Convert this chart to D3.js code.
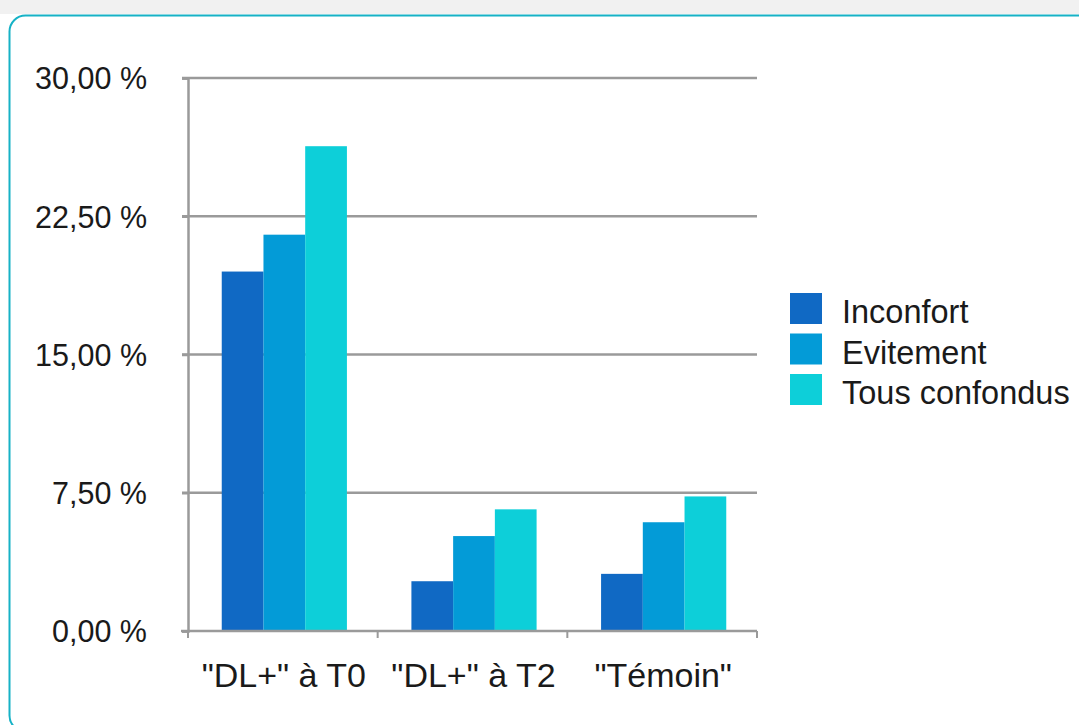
<!DOCTYPE html>
<html>
<head>
<meta charset="utf-8">
<script src="https://cdn.jsdelivr.net/npm/d3@7"></script>
<style>
  body { margin: 0; background: #fff; }
  .chart text { font-family: "Liberation Sans", Arial, sans-serif; fill: #1a1a1a; }
</style>
</head>
<body>
<div class="chart"></div>
<script>
// chart size
var width = 1079;
var height = 725;

// data
var categories = ['"DL+" à T0', '"DL+" à T2', '"Témoin"'];
var seriesNames = ["Inconfort", "Evitement", "Tous confondus"];
var inconfort = [19.5, 2.7, 3.1];
var evitement = [21.5, 5.15, 5.9];
var tousConfondus = [26.3, 6.6, 7.3];
var tickValues = [0, 7.5, 15, 22.5, 30];
var colors = ["#1069c4", "#039bd7", "#0dcfd9"];

var series = [inconfort, evitement, tousConfondus];

const svg = d3.select(".chart")
              .append("svg")
              .attr("width", width)
              .attr("height", height);

// frame
svg.append("rect")
   .attr("x", 0).attr("y", 0)
   .attr("width", width).attr("height", 14)
   .attr("fill", "#f1f1f1");
svg.append("rect")
   .attr("x", 9.5)
   .attr("y", 15.5)
   .attr("width", width + 20)
   .attr("height", 716)
   .attr("rx", 16)
   .attr("fill", "#fff")
   .attr("stroke", "#16b2c6")
   .attr("stroke-width", 2);

// scales
var x0 = d3.scaleBand()
           .domain(categories)
           .range([188, 757])
           .paddingInner(0.34)
           .paddingOuter(0.17);

var x1 = d3.scaleBand()
           .domain(seriesNames)
           .range([0, x0.bandwidth()]);

var y = d3.scaleLinear()
          .domain([0, 30])
          .range([631, 78]);

// gridlines
svg.append("g")
   .selectAll("line")
   .data(tickValues.slice(1))
   .enter()
   .append("line")
   .attr("x1", 182)
   .attr("x2", 757)
   .attr("y1", d => y(d))
   .attr("y2", d => y(d))
   .attr("stroke", "#9a9a9a")
   .attr("stroke-width", 2.5);

// bars
var groups = svg.append("g")
   .selectAll("g")
   .data(categories)
   .enter()
   .append("g")
   .attr("transform", d => "translate(" + (x0(d) + 1.5) + ",0)");

groups.selectAll("rect")
   .data((d, i) => seriesNames.map((s, j) => ({ name: s, value: series[j][i], color: colors[j] })))
   .enter()
   .append("rect")
   .attr("x", d => x1(d.name))
   .attr("width", x1.bandwidth())
   .attr("y", d => y(d.value))
   .attr("height", d => y(0) - y(d.value))
   .attr("fill", d => d.color);

// y axis
const yAxis = d3.axisLeft(y)
                .tickValues(tickValues)
                .tickSize(6)
                .tickPadding(35)
                .tickFormat(d => d3.format(".2f")(d).replace(".", ",") + " %");

svg.append("g")
   .attr("transform", "translate(188,0)")
   .call(yAxis)
   .call(g => g.select(".domain").attr("stroke", "#9a9a9a").attr("stroke-width", 2.5))
   .call(g => g.selectAll(".tick line").attr("stroke", "#9a9a9a").attr("stroke-width", 2.5))
   .call(g => g.selectAll(".tick text")
               .attr("font-size", 30.5)
               .attr("dy", "0.36em")
               .style("font-family", '"Liberation Sans", Arial, sans-serif')
               .attr("fill", "#1a1a1a"));

// x axis
var xTicks = d3.range(categories.length + 1).map(i => 188 + i * x0.step());
var xg = svg.append("g");
xg.append("line")
  .attr("x1", 181).attr("x2", 757)
  .attr("y1", y(0)).attr("y2", y(0))
  .attr("stroke", "#9a9a9a").attr("stroke-width", 2.5);
xg.selectAll(".xt")
  .data(xTicks)
  .enter()
  .append("line")
  .attr("class", "xt")
  .attr("x1", d => d).attr("x2", d => d)
  .attr("y1", y(0)).attr("y2", y(0) + 7)
  .attr("stroke", "#9a9a9a").attr("stroke-width", 2);
xg.selectAll("text")
  .data(categories)
  .enter()
  .append("text")
  .attr("x", d => x0(d) + x0.bandwidth() / 2 + 1)
  .attr("y", 687)
  .attr("text-anchor", "middle")
  .attr("font-size", 34)
  .text(d => d);

// legend
var legend = svg.append("g")
   .attr("transform", "translate(790,293)");

var li = legend.selectAll("g")
   .data(seriesNames)
   .enter()
   .append("g")
   .attr("transform", (d, i) => "translate(0," + (i * 40.5) + ")");

li.append("rect")
  .attr("width", 32)
  .attr("height", 31)
  .attr("fill", (d, i) => colors[i]);

li.append("text")
  .attr("x", 52)
  .attr("y", 30)
  .attr("font-size", 32.5)
  .text(d => d);
</script>
</body>
</html>
